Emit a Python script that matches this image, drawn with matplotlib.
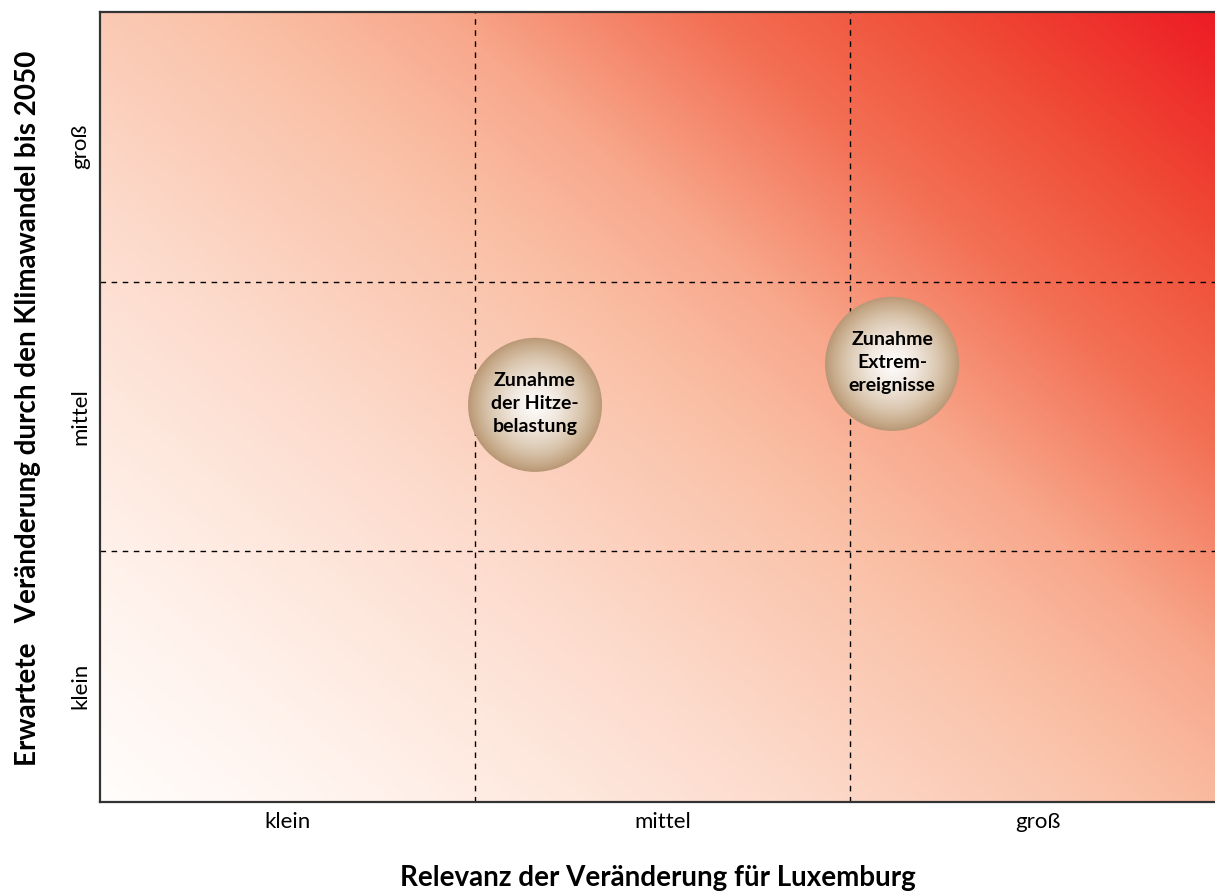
import numpy as np
import matplotlib
matplotlib.use("Agg")
from matplotlib import pyplot as plt
from matplotlib.colors import LinearSegmentedColormap
from matplotlib.patches import Ellipse

plt.rcParams['font.family'] = ['Lato', 'DejaVu Sans']

# Categories on both axes
levels = ["klein", "mittel", "groß"]
level_pos = [0.5, 1.5, 2.5]
grid_pos = [1, 2]

# Bubbles: (relevance, expected change) in category units
bubble_labels = ["Zunahme\nder Hitze-\nbelastung", "Zunahme\nExtrem-\nereignisse"]
bubble_x = [1.16, 2.112]
bubble_y = [1.543, 1.695]

xlabel = "Relevanz der Veränderung für Luxemburg"
ylabel = "Erwartete   Veränderung durch den Klimawandel bis 2050"

fig = plt.figure(figsize=(12.15, 8.94), dpi=100)
ax = fig.add_axes([100 / 1215, 92 / 894, 1115 / 1215, 790 / 894])
xmin, xmax = 0, 2.973
ymin, ymax = 0.07, 3.0
ax.set_xlim(xmin, xmax)
ax.set_ylim(ymin, ymax)

# background gradient, white bottom-left to red top-right
bg_cmap = LinearSegmentedColormap.from_list("bg", [
    (0.0, "#fffdfc"), (0.15, "#fff1ea"), (0.33, "#fddcce"), (0.52, "#fac0a6"),
    (0.62, "#f8a88c"), (0.75, "#f37055"), (0.86, "#f04e38"),
    (1.0, "#ed1c24")])
gx = np.linspace(0, 1, 600)
gy = np.linspace(0, 1, 400)
U, V = np.meshgrid(gx, gy)
T = (1.2 * U + V) / 2.2
ax.imshow(T, cmap=bg_cmap, origin="lower", extent=[xmin, xmax, ymin, ymax],
          aspect="auto", vmin=0, vmax=1, zorder=0, interpolation="bilinear")

# dashed grid
for g in grid_pos:
    ax.axvline(g, color="black", lw=1.0, ls=(0, (4, 4)), zorder=1)
    ax.axhline(g, color="black", lw=1.0, ls=(0, (4, 4)), zorder=1)

# bubbles with radial gradient
bub_cmap = LinearSegmentedColormap.from_list("bub", [
    (0.0, "#ffffff"), (0.35, "#f1e8df"), (0.7, "#d9c5ad"),
    (0.9, "#c6a988"), (1.0, "#b89776")])
r = np.linspace(-1, 1, 200)
BX, BY = np.meshgrid(r, r)
R = np.clip(np.sqrt(BX ** 2 + BY ** 2), 0, 1)
rx = 67 / 375
ry = 67 / 269.5
for bx, by, lab in zip(bubble_x, bubble_y, bubble_labels):
    circ = Ellipse((bx, by), 2 * rx, 2 * ry, facecolor="none", edgecolor="none")
    ax.add_patch(circ)
    im = ax.imshow(R, cmap=bub_cmap, vmin=0, vmax=1, origin="lower",
                   extent=[bx - rx, bx + rx, by - ry, by + ry],
                   aspect="auto", zorder=2, interpolation="bilinear")
    im.set_clip_path(circ)
    ax.text(bx, by + 0.005, lab, ha="center", va="center", fontsize=14,
            fontweight="bold", linespacing=1.4, zorder=3)
ax.set_xlim(xmin, xmax)
ax.set_ylim(ymin, ymax)

ax.set_xticks(level_pos)
ax.set_xticklabels(levels, fontsize=16)
ax.set_yticks(level_pos)
ax.set_yticklabels(levels, fontsize=16, rotation=90, va="center")
ax.tick_params(length=0)
ax.tick_params(axis="x", pad=7)
ax.tick_params(axis="y", pad=7)

for side in ["left", "bottom", "top"]:
    ax.spines[side].set_color("#333333")
    ax.spines[side].set_linewidth(1.6)
ax.spines["right"].set_visible(False)

fig.text(658 / 1215, 1 - 878 / 894, xlabel, ha="center", va="center",
         fontsize=20, fontweight="bold")
fig.text(28 / 1215, 1 - 408 / 894, ylabel, ha="center", va="center",
         fontsize=20, fontweight="bold", rotation=90)

fig.savefig("out.png", dpi=100)
